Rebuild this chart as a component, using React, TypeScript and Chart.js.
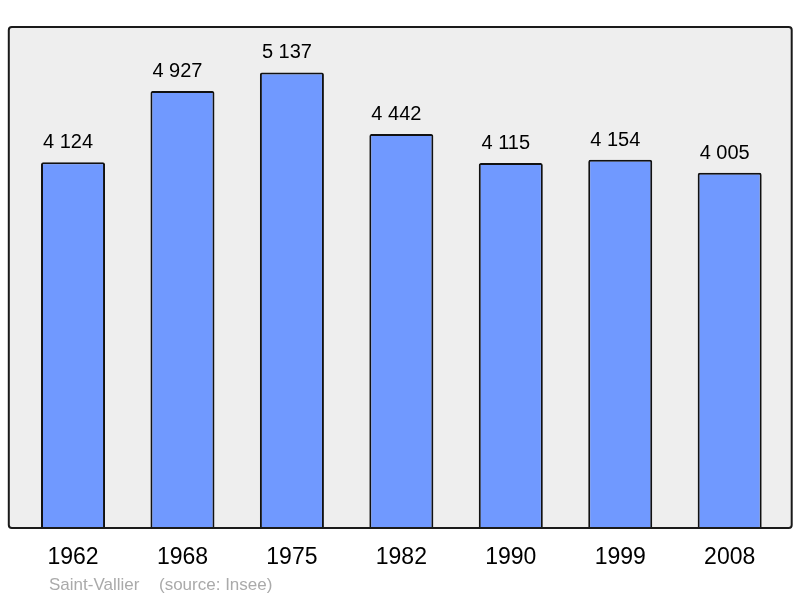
import React, { useEffect, useRef } from "react";
import { Chart, registerables } from "chart.js";

Chart.register(...registerables);

const years = ["1962", "1968", "1975", "1982", "1990", "1999", "2008"];
const population = [4124, 4927, 5137, 4442, 4115, 4154, 4005];
const footerPlace = "Saint-Vallier";
const footerSource = "(source: Insee)";

const FONT = "'Liberation Sans', Arial, sans-serif";

function fmt(n: number): string {
  return String(n).replace(/\B(?=(\d{3})+(?!\d))/g, " ");
}

export default function App() {
  const ref = useRef<HTMLCanvasElement | null>(null);

  useEffect(() => {
    const canvas = ref.current;
    if (!canvas) return;

    const boxPlugin = {
      id: "boxPlugin",
      beforeDatasetsDraw(chart: any) {
        const { ctx, chartArea } = chart;
        const l = chartArea.left - 9.5;
        const r = chartArea.right + 7.3;
        const t = chartArea.top;
        const b = chartArea.bottom;
        ctx.save();
        ctx.beginPath();
        ctx.roundRect(l, t, r - l, b - t, 3);
        ctx.fillStyle = "#eeeeee";
        ctx.fill();
        ctx.restore();
      },
      afterDatasetsDraw(chart: any) {
        const { ctx, chartArea } = chart;
        const l = chartArea.left - 9.5;
        const r = chartArea.right + 7.3;
        const t = chartArea.top;
        const b = chartArea.bottom;
        ctx.save();
        ctx.beginPath();
        ctx.roundRect(l, t, r - l, b - t, 3);
        ctx.lineWidth = 2;
        ctx.strokeStyle = "#1a1a1a";
        ctx.stroke();

        // value labels
        const meta = chart.getDatasetMeta(0);
        ctx.fillStyle = "#000";
        ctx.font = `20px ${FONT}`;
        ctx.textAlign = "center";
        ctx.textBaseline = "alphabetic";
        meta.data.forEach((bar: any, i: number) => {
          ctx.fillText(fmt(population[i]), bar.x - 5, bar.y - 14);
        });

        // footer
        ctx.font = `17px ${FONT}`;
        ctx.fillStyle = "#aaaaaa";
        ctx.textAlign = "left";
        ctx.fillText(footerPlace, 49, 590);
        ctx.fillText(footerSource, 159, 590);
        ctx.restore();
      },
    };

    const chart = new Chart(canvas, {
      type: "bar",
      data: {
        labels: years,
        datasets: [
          {
            data: population,
            backgroundColor: "#7099ff",
            borderColor: "#111111",
            borderWidth: 2,
            borderRadius: 2,
            borderSkipped: "bottom",
            barPercentage: 0.585,
            categoryPercentage: 1,
          },
        ],
      },
      options: {
        responsive: false,
        animation: false,
        layout: { padding: { top: 27, left: 18.3, right: 15.6, bottom: 20 } },
        plugins: {
          legend: { display: false },
          tooltip: { enabled: false },
        },
        scales: {
          x: {
            grid: { display: false, drawTicks: false },
            border: { display: false },
            ticks: {
              color: "#000",
              font: { family: FONT, size: 23 },
              padding: 16,
              maxRotation: 0,
            },
            afterFit: (scale: any) => {
              scale.height = 50;
            },
          },
          y: {
            display: false,
            min: 0,
            max: 5650,
          },
        },
      },
      plugins: [boxPlugin],
    });

    return () => chart.destroy();
  }, []);

  return (
    <div style={{ position: "fixed", left: 0, top: 0, width: 800, height: 598, background: "#fff" }}>
      <canvas ref={ref} width={800} height={598} />
    </div>
  );
}
